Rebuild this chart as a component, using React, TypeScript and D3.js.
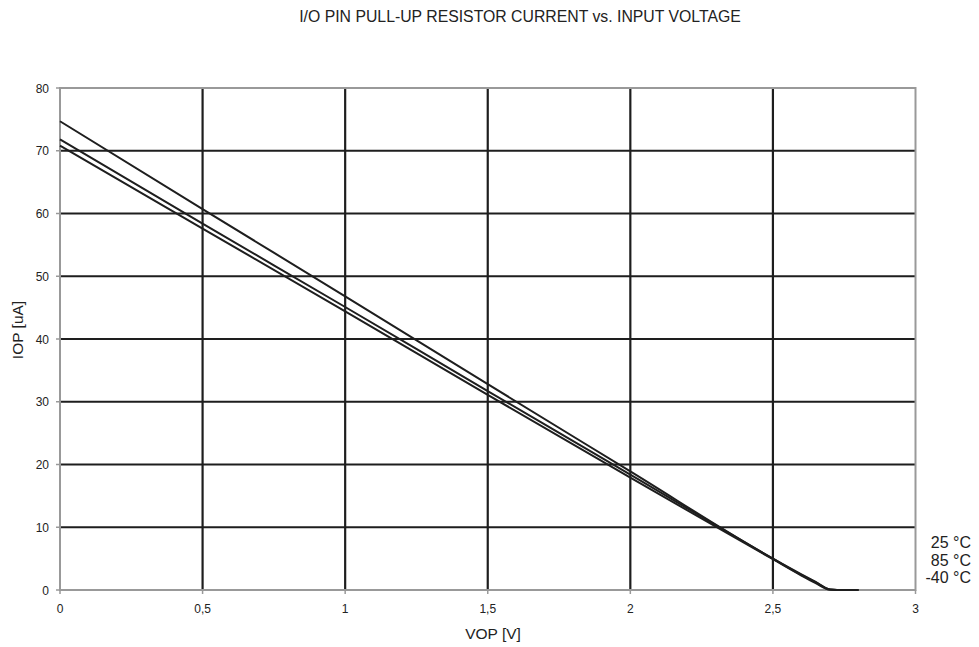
import React from "react";
import * as d3 from "d3";

const voltages = [0, 0.5, 1, 1.5, 2, 2.5, 2.6, 2.65, 2.7, 2.75, 2.8];
const series25 = [74.7, 60.7, 46.8, 32.8, 18.9, 5.0, 2.5, 1.3, 0.1, 0, 0];
const series85 = [71.8, 58.4, 45.1, 31.7, 18.4, 5.0, 2.4, 1.2, 0.1, 0, 0];
const seriesM40 = [70.8, 57.6, 44.4, 31.1, 17.9, 4.9, 2.3, 1.1, 0.05, 0, 0];
const allSeries = [series25, series85, seriesM40];
const legendLabels = ["25 °C", "85 °C", "-40 °C"];
const xTicks = [0, 0.5, 1, 1.5, 2, 2.5, 3];
const yTicks = [0, 10, 20, 30, 40, 50, 60, 70, 80];

export default function App() {
  const W = 979, H = 647;
  const x = d3.scaleLinear().domain([0, 3]).range([60, 915.5]);
  const y = d3.scaleLinear().domain([0, 80]).range([590, 88]);
  const line = d3
    .line<number>()
    .x((_, i) => x(voltages[i]))
    .y((d) => y(d))
    .curve(d3.curveMonotoneX);
  const fmt = (v: number) => String(v).replace(".", ",");
  const font = "Liberation Sans, Arial, sans-serif";
  return (
    <svg width={W} height={H} style={{ position: "absolute", left: 0, top: 0, background: "#fff" }} fontFamily={font}>
      <text x={520} y={22} textAnchor="middle" fontSize={15.8} fill="#222">
        I/O PIN PULL-UP RESISTOR CURRENT vs. INPUT VOLTAGE
      </text>
      {yTicks.filter((t) => t > 0 && t < 80).map((t) => (
        <line key={"gy" + t} x1={x(0)} x2={x(3)} y1={y(t)} y2={y(t)} stroke="#1e1e1e" strokeWidth={2.2} />
      ))}
      {xTicks.filter((t) => t > 0 && t < 3).map((t) => (
        <line key={"gx" + t} x1={x(t)} x2={x(t)} y1={y(0)} y2={y(80)} stroke="#1e1e1e" strokeWidth={2.2} />
      ))}
      <rect x={x(0)} y={y(80)} width={x(3) - x(0)} height={y(0) - y(80)} fill="none" stroke="#999" strokeWidth={2} />
      {yTicks.map((t) => (
        <g key={"ty" + t}>
          <line x1={x(0) - 4} x2={x(0)} y1={y(t)} y2={y(t)} stroke="#999" strokeWidth={1.5} />
          <text x={49} y={y(t) + 4.5} textAnchor="end" fontSize={12} fill="#222">{t}</text>
        </g>
      ))}
      {xTicks.map((t) => (
        <g key={"tx" + t}>
          <line x1={x(t)} x2={x(t)} y1={y(0)} y2={y(0) + 4} stroke="#999" strokeWidth={1.5} />
          <text x={x(t)} y={613} textAnchor="middle" fontSize={12} fill="#222">{fmt(t)}</text>
        </g>
      ))}
      {allSeries.map((s, i) => (
        <path key={"s" + i} d={line(s) || ""} fill="none" stroke="#1e1e1e" strokeWidth={2} />
      ))}
      {legendLabels.map((l, i) => (
        <text key={l} x={971} y={548 + i * 17.5} textAnchor="end" fontSize={16} fill="#222">{l}</text>
      ))}
      <text x={493} y={639} textAnchor="middle" fontSize={15.5} fill="#222">VOP [V]</text>
      <text transform={`translate(23,330) rotate(-90)`} textAnchor="middle" fontSize={15.5} fill="#222">IOP [uA]</text>
    </svg>
  );
}
